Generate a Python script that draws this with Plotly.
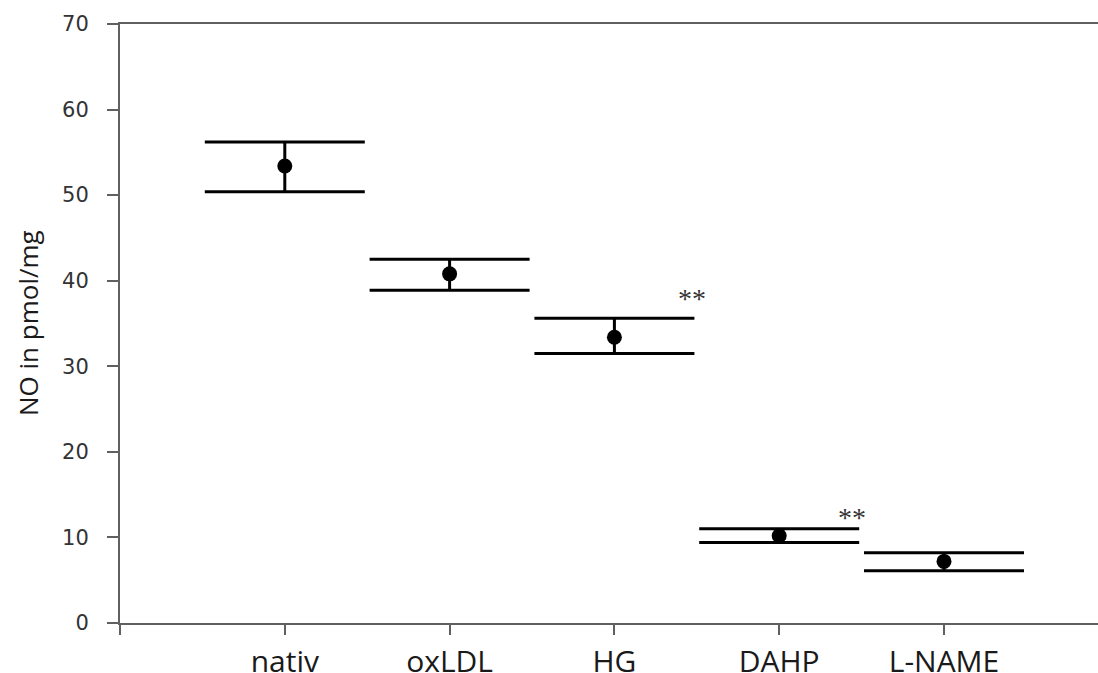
import plotly.graph_objects as go

categories = ["nativ", "oxLDL", "HG", "DAHP", "L-NAME"]
positions = [1, 2, 3, 4, 5]
means = [53.4, 40.8, 33.4, 10.2, 7.2]
upper = [56.2, 42.5, 35.6, 11.0, 8.2]
lower = [50.4, 38.9, 31.5, 9.4, 6.1]
y_ticks = [0, 10, 20, 30, 40, 50, 60, 70]
sig_labels = ["**", "**"]
sig_x = [3.47, 4.44]
sig_y = [37.9, 12.3]

err_plus = [u - m for u, m in zip(upper, means)]
err_minus = [m - l for m, l in zip(means, lower)]

FIG_W = 1130  # wider than the window: the plot runs off the right edge as in the reference
X_MAX = (FIG_W - 120) / 164.8

fig = go.Figure()
fig.add_trace(go.Scatter(
    x=positions, y=means, mode="markers",
    marker=dict(color="black", size=15, symbol="circle"),
    error_y=dict(type="data", symmetric=False, array=err_plus, arrayminus=err_minus,
                 color="black", thickness=3, width=80),
    showlegend=False,
    cliponaxis=False,
))

for t, xx, yy in zip(sig_labels, sig_x, sig_y):
    fig.add_annotation(x=xx, y=yy, text=t, showarrow=False,
                       font=dict(family="Liberation Serif", size=28, color="#333333"))

fig.add_annotation(xref="paper", yref="paper", x=-92.5 / (FIG_W - 120), y=0.50,
                   text="NO in pmol/mg",
                   textangle=-90, showarrow=False, xanchor="center", yanchor="middle",
                   font=dict(family="Open Sans", size=26, color="#1a1a1a"))

fig.update_layout(
    width=FIG_W, height=673,
    margin=dict(l=120, r=0, t=24, b=50, autoexpand=False),
    plot_bgcolor="white", paper_bgcolor="white",
    xaxis=dict(range=[0, X_MAX], tickvals=[0] + positions, ticktext=[""] + categories,
               showline=True, linecolor="#606060", linewidth=2, mirror=True,
               ticks="outside", ticklen=10, tickwidth=2, tickcolor="#606060",
               showgrid=False, zeroline=False, automargin=False,
               tickfont=dict(family="Open Sans", size=30, color="#1a1a1a"),
               ticklabelstandoff=1),
    yaxis=dict(range=[0, 70], tickvals=y_ticks,
               showline=True, linecolor="#606060", linewidth=2, mirror=False,
               ticks="outside", ticklen=11, tickwidth=1.5, tickcolor="#606060",
               showgrid=False, zeroline=False, automargin=False,
               tickfont=dict(family="DejaVu Sans", size=21, color="#333"),
               ticklabelstandoff=14),
)

fig.write_html("out.html", config={"displayModeBar": False},
               post_script=("document.body.style.margin='0';"
                            "document.body.style.overflow='hidden';"
                            "document.documentElement.style.overflow='hidden';"))

# page styling: no body margin, no scrollbars
with open("out.html", "r", encoding="utf-8") as f:
    html = f.read()
style = ("<style>html,body{margin:0;padding:0;overflow:hidden;}"
         "::-webkit-scrollbar{display:none;width:0;height:0;}</style>")
html = html.replace("<head>", "<head>" + style, 1)
with open("out.html", "w", encoding="utf-8") as f:
    f.write(html)
